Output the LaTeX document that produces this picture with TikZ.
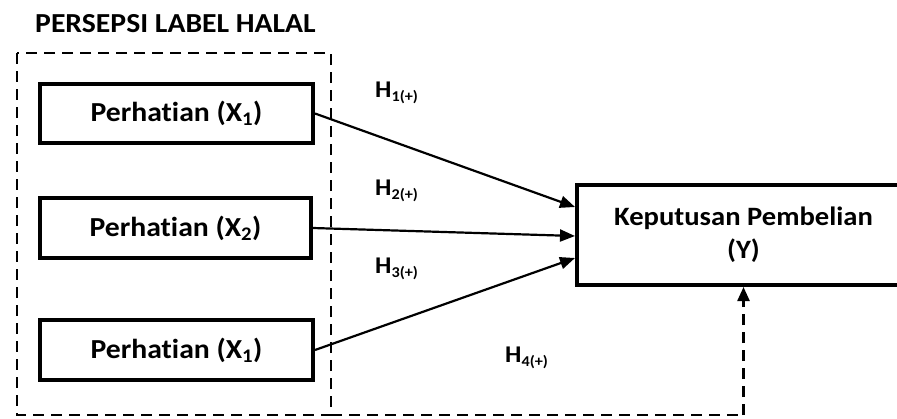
\documentclass[tikz,border=0pt]{standalone}
\usepackage{fontspec}
\setmainfont{Carlito}[FakeStretch=1.08, Ligatures=NoCommon]
\usetikzlibrary{arrows.meta,calc}
\tikzset{
  varbox/.style={draw, line width=4pt, fill=white, inner sep=0pt,
    font=\bfseries\fontsize{27.5}{33}\selectfont, align=center},
  link/.style={line width=2.2pt, -{Triangle[length=15pt,width=12pt]}},
  grpline/.style={line width=2.4pt, dash pattern=on 11pt off 7pt},
  hyp/.style={anchor=base west, inner sep=0pt, font=\bfseries\fontsize{24}{28}\selectfont},
  ttl/.style={anchor=base west, inner sep=0pt, font=\bfseries\fontsize{27.5}{33}\selectfont}
}
\newcommand{\hsub}[1]{\raisebox{-4pt}{\fontsize{15}{17}\selectfont #1}}
\begin{document}
\begin{tikzpicture}[x=1pt,y=-1pt]
  \useasboundingbox (0,0) rectangle (897,418);
  \begin{scope}
    \clip (0,0) rectangle (897,418);

    % title of the variable group
    \node[ttl] (title) at (35,32) {PERSEPSI LABEL HALAL};

    % independent variables
    \node[varbox, minimum width=273pt, minimum height=59pt] (x1) at (176.5,113.5) {Perhatian (X\textsubscript{1})};
    \node[varbox, minimum width=271pt, minimum height=60pt] (x2) at (175.5,228) {Perhatian (X\textsubscript{2})};
    \node[varbox, minimum width=273pt, minimum height=60pt] (x3) at (176.5,350) {Perhatian (X\textsubscript{1})};

    % dependent variable (runs past the right edge)
    \node[varbox, minimum width=333pt, minimum height=100pt,
          font=\bfseries\fontsize{26.5}{33}\selectfont] (yv) at (743.5,235) {Keputusan Pembelian\\(Y)};

    % dashed group frame and its link to Y
    \coordinate (gtl) at (17,53);
    \coordinate (gbr) at (331,415);
    \draw[grpline] (gtl) rectangle (gbr);
    \coordinate (gend) at (yv.south |- gbr);
    \draw[grpline] (gbr) -- (gend);
    \draw[grpline, -{Triangle[length=14pt,width=12pt]}] (gend) -- (yv.south);

    % direct paths
    \draw[link] (x1.east) -- ([yshift=28pt]yv.west);
    \draw[link] (x2.east) -- ([yshift=-1pt]yv.west);
    \draw[link] (x3.east) -- ([yshift=-23pt]yv.west);

    % hypothesis labels
    \node[hyp] (h1) at (375,97) {H\hsub{1(+)}};
    \node[hyp] (h2) at (375,195) {H\hsub{2(+)}};
    \node[hyp] (h3) at (375,273) {H\hsub{3(+)}};
    \node[hyp] (h4) at (505,362) {H\hsub{4(+)}};
  \end{scope}
\end{tikzpicture}
\end{document}
